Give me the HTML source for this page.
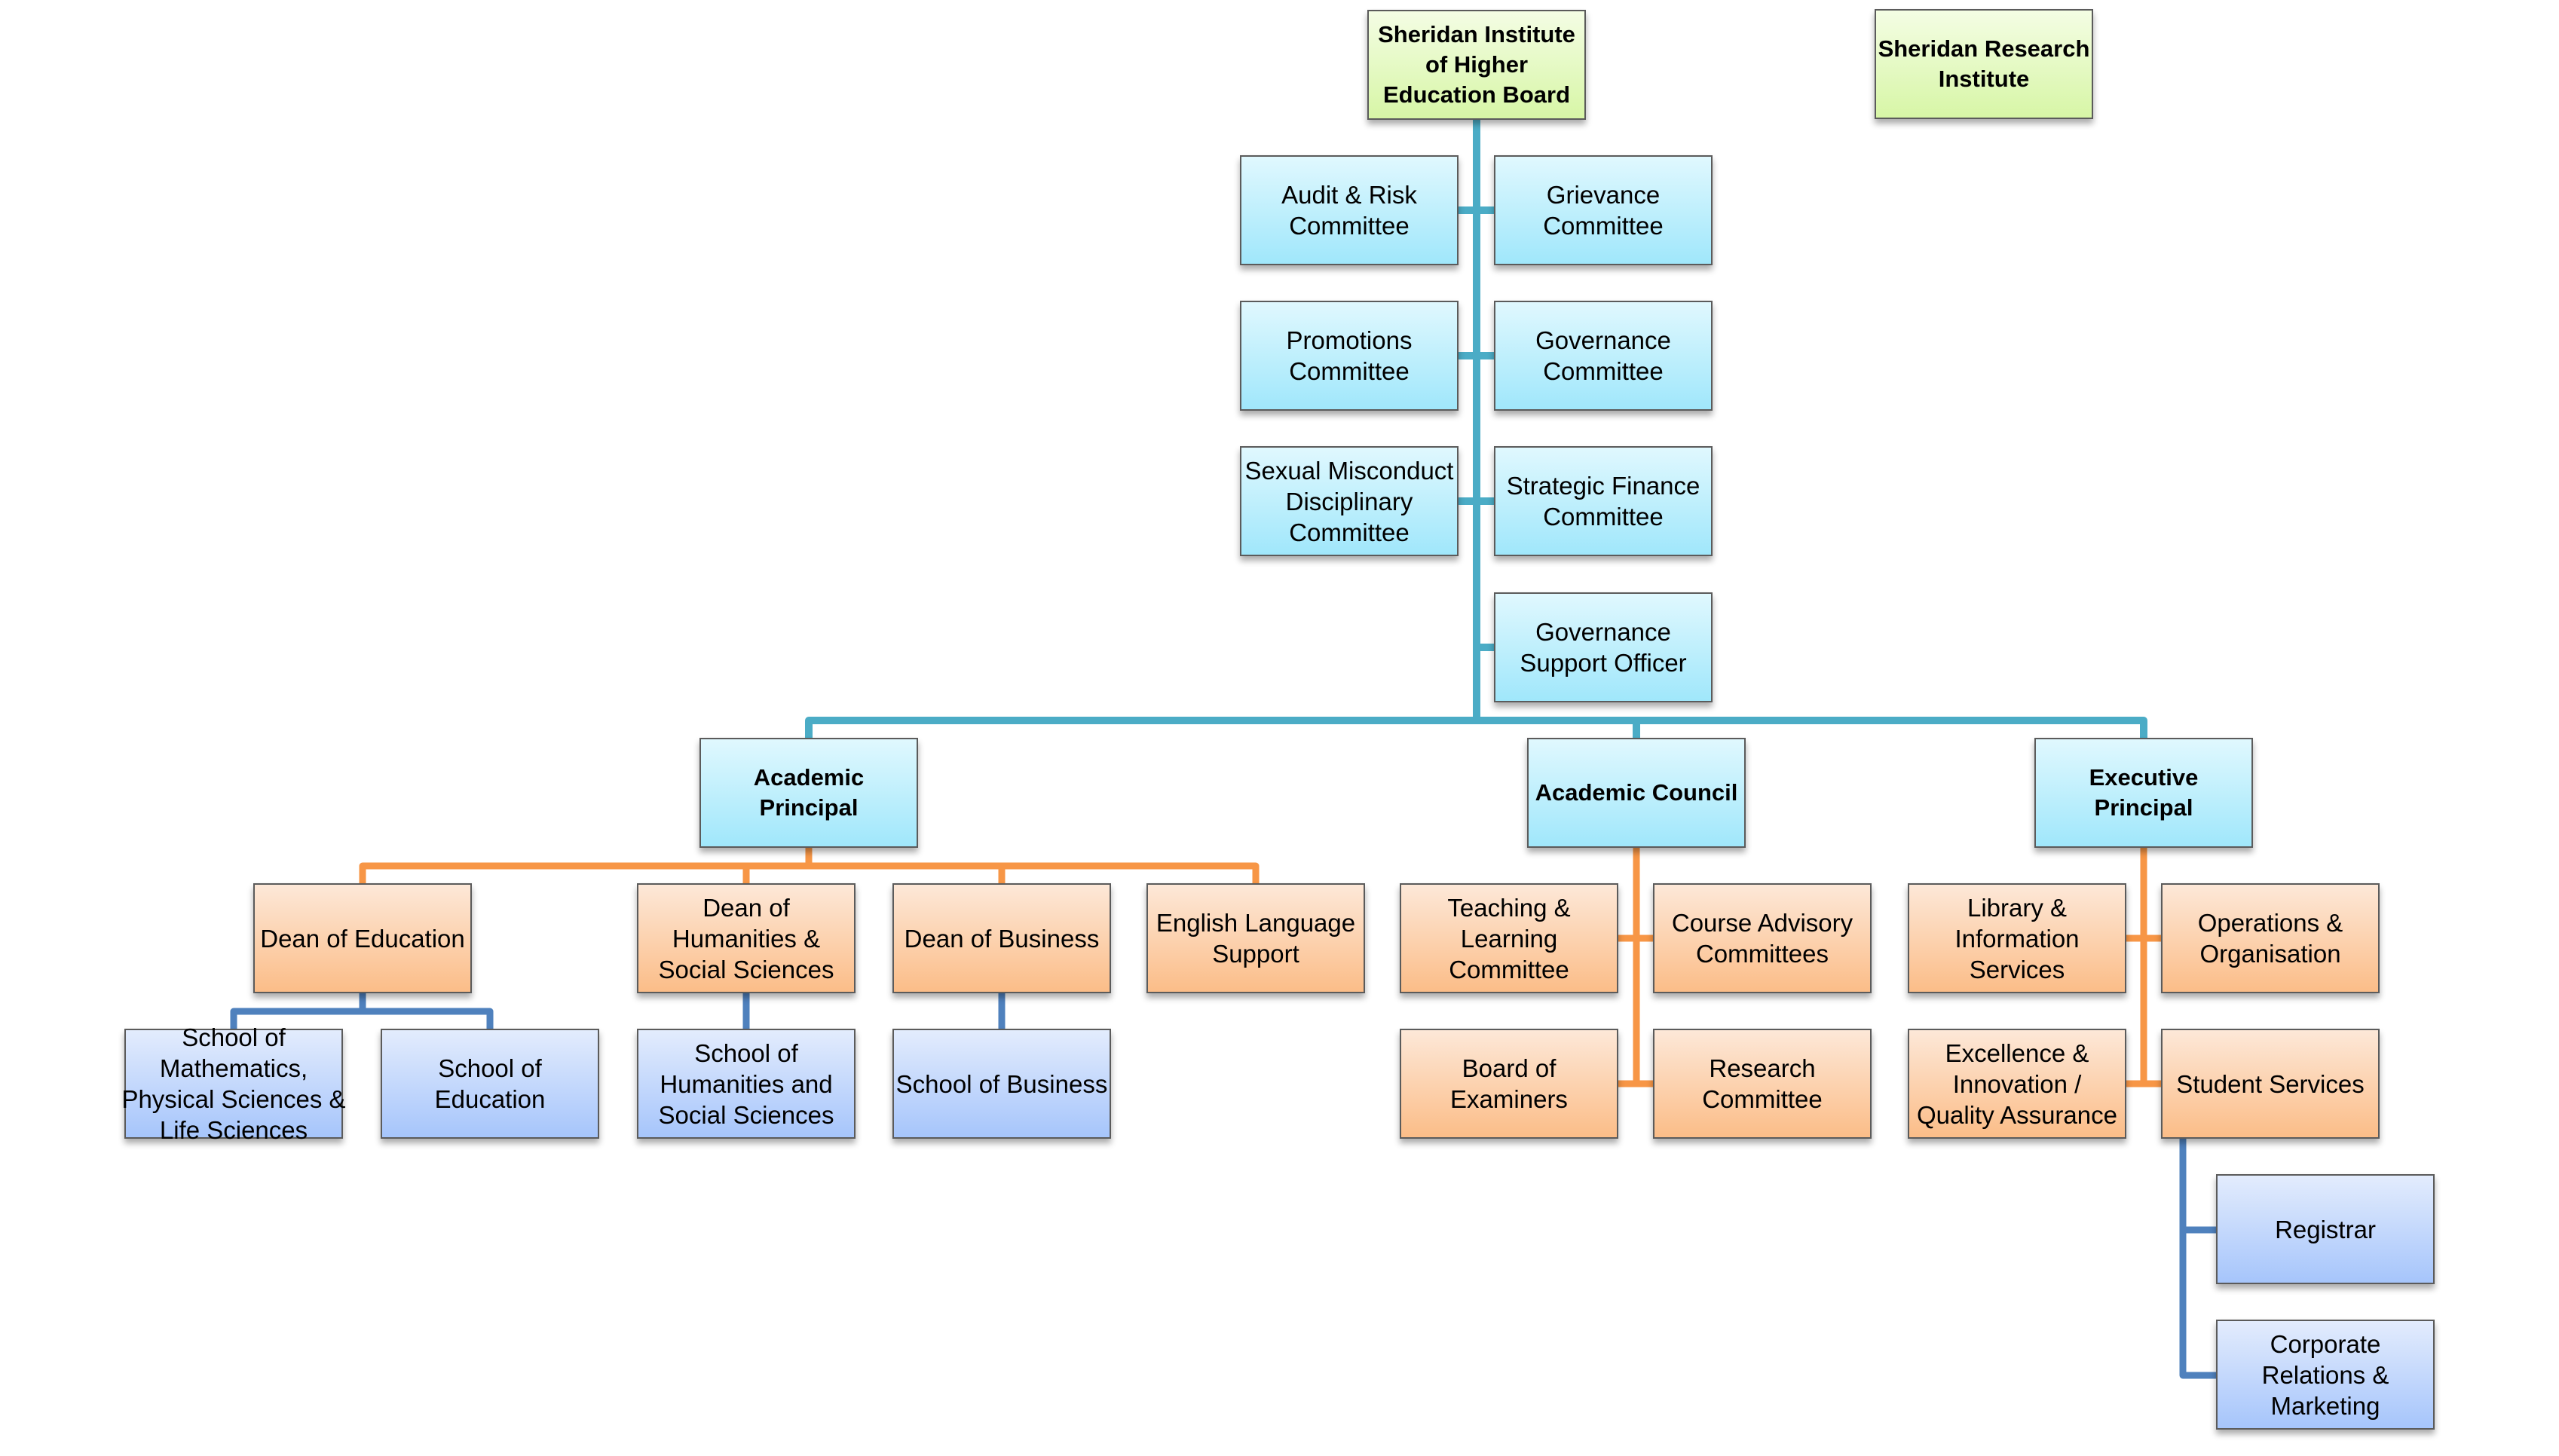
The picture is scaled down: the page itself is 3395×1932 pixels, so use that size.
<!DOCTYPE html>
<html>
<head>
<meta charset="utf-8">
<style>
html,body{margin:0;padding:0;background:#fff;}
body{width:3395px;height:1932px;position:relative;overflow:hidden;font-family:"Liberation Sans",Arial,sans-serif;}
svg.c{position:absolute;left:0;top:0;}
.b{position:absolute;width:290px;height:146px;box-sizing:border-box;border:2px solid #5b5b5b;
box-shadow:0 6px 8px rgba(0,0,0,0.33);display:flex;align-items:center;justify-content:center;
text-align:center;font-size:33px;line-height:41px;color:#000;white-space:nowrap;}
.g{background:linear-gradient(to bottom,#f4fde4,#d7f6a6);}
.c1{background:linear-gradient(to bottom,#e0f8fe,#a0e7fb);}
.o{background:linear-gradient(to bottom,#fde8d8,#fbbd88);}
.l{background:linear-gradient(to bottom,#e3ecfd,#a6c5fb);}
.bd{font-weight:bold;font-size:31px;line-height:40px;}
</style>
</head>
<body>
<svg class="c" width="3395" height="1932" viewBox="0 0 3395 1932">
<g fill="none" stroke="#4bacc6" stroke-width="10" stroke-linejoin="round">
<path d="M1959 159 V956"/>
<path d="M1073 979 V956 H2844 V979"/>
<path d="M2171 956 V979"/>
<path d="M1935 279 H1982"/>
<path d="M1935 472 H1982"/>
<path d="M1935 665 H1982"/>
<path d="M1959 859 H1982"/>
</g>
<g fill="none" stroke="#f79646" stroke-width="9" stroke-linejoin="round">
<path d="M1073 1125 V1149"/>
<path d="M481 1172 V1149 H1666 V1172"/>
<path d="M990 1149 V1172"/>
<path d="M1329 1149 V1172"/>
<path d="M2171 1125 V1438"/>
<path d="M2147 1245 H2193"/>
<path d="M2147 1438 H2193"/>
<path d="M2844 1125 V1438"/>
<path d="M2821 1245 H2867"/>
<path d="M2821 1438 H2867"/>
</g>
<g fill="none" stroke="#4f81bd" stroke-width="9" stroke-linejoin="round">
<path d="M481 1318 V1342"/>
<path d="M310 1365 V1342 H650 V1365"/>
<path d="M990 1318 V1365"/>
<path d="M1329 1318 V1365"/>
<path d="M2896 1511 V1825 H2940"/>
<path d="M2896 1632 H2940"/>
</g>
</svg>

<div class="b g bd" style="left:1814px;top:13px;">Sheridan Institute<br>of Higher<br>Education Board</div>
<div class="b g bd" style="left:2487px;top:12px;">Sheridan Research<br>Institute</div>

<div class="b c1" style="left:1645px;top:206px;">Audit &amp; Risk<br>Committee</div>
<div class="b c1" style="left:1982px;top:206px;">Grievance<br>Committee</div>
<div class="b c1" style="left:1645px;top:399px;">Promotions<br>Committee</div>
<div class="b c1" style="left:1982px;top:399px;">Governance<br>Committee</div>
<div class="b c1" style="left:1645px;top:592px;">Sexual Misconduct<br>Disciplinary<br>Committee</div>
<div class="b c1" style="left:1982px;top:592px;">Strategic Finance<br>Committee</div>
<div class="b c1" style="left:1982px;top:786px;">Governance<br>Support Officer</div>

<div class="b c1 bd" style="left:928px;top:979px;">Academic<br>Principal</div>
<div class="b c1 bd" style="left:2026px;top:979px;">Academic Council</div>
<div class="b c1 bd" style="left:2699px;top:979px;">Executive<br>Principal</div>

<div class="b o" style="left:336px;top:1172px;">Dean of Education</div>
<div class="b o" style="left:845px;top:1172px;">Dean of<br>Humanities &amp;<br>Social Sciences</div>
<div class="b o" style="left:1184px;top:1172px;">Dean of Business</div>
<div class="b o" style="left:1521px;top:1172px;">English Language<br>Support</div>

<div class="b l" style="left:165px;top:1365px;">School of<br>Mathematics,<br>Physical Sciences &amp;<br>Life Sciences</div>
<div class="b l" style="left:505px;top:1365px;">School of<br>Education</div>
<div class="b l" style="left:845px;top:1365px;">School of<br>Humanities and<br>Social Sciences</div>
<div class="b l" style="left:1184px;top:1365px;">School of Business</div>

<div class="b o" style="left:1857px;top:1172px;">Teaching &amp;<br>Learning<br>Committee</div>
<div class="b o" style="left:2193px;top:1172px;">Course Advisory<br>Committees</div>
<div class="b o" style="left:1857px;top:1365px;">Board of<br>Examiners</div>
<div class="b o" style="left:2193px;top:1365px;">Research<br>Committee</div>

<div class="b o" style="left:2531px;top:1172px;">Library &amp;<br>Information<br>Services</div>
<div class="b o" style="left:2867px;top:1172px;">Operations &amp;<br>Organisation</div>
<div class="b o" style="left:2531px;top:1365px;">Excellence &amp;<br>Innovation /<br>Quality Assurance</div>
<div class="b o" style="left:2867px;top:1365px;">Student Services</div>

<div class="b l" style="left:2940px;top:1558px;">Registrar</div>
<div class="b l" style="left:2940px;top:1751px;">Corporate<br>Relations &amp;<br>Marketing</div>
</body>
</html>
